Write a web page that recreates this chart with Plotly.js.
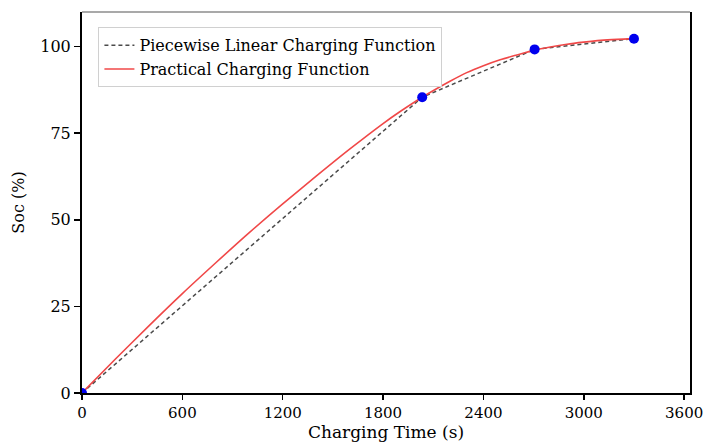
<!DOCTYPE html>
<html>
<head>
<meta charset="utf-8">
<script src="https://cdn.plot.ly/plotly-3.0.1.min.js"></script>
<style>html,body{margin:0;padding:0;background:#fff;}#chart{width:703px;height:442px;}</style>
</head>
<body>
<div id="chart"></div>
<script>
// Breakpoints of piecewise linear charging function
const pwTime = [0, 2034, 2706, 3300];
const pwSoc = [0, 85.4, 99.2, 102.3];
// Practical (nonlinear) charging function
const prTime = [0, 200, 400, 600, 800, 1000, 1200, 1400, 1600, 1800, 1900, 2034, 2200, 2300, 2400, 2500, 2600, 2706, 2800, 2900, 3000, 3100, 3200, 3300];
const prSoc = [0, 9.8, 19.4, 28.7, 37.6, 46.3, 54.6, 62.6, 70.4, 77.8, 81.2, 85.4, 90.0, 92.5, 94.5, 96.2, 97.6, 99.0, 99.9, 100.7, 101.3, 101.8, 102.1, 102.3];
const xTicks = [0, 600, 1200, 1800, 2400, 3000, 3600];
const yTicks = [0, 25, 50, 75, 100];

const serif = "DejaVu Serif";

const traces = [
  {x: pwTime, y: pwSoc, mode: 'lines', name: 'Piecewise Linear Charging Function',
   line: {color: '#4a4a4a', width: 1.5, dash: '4px,3px'}},
  {x: prTime, y: prSoc, mode: 'lines', name: 'Practical Charging Function',
   line: {color: '#f04848', width: 1.6, shape: 'spline', smoothing: 0.8}},
  {x: pwTime, y: pwSoc, mode: 'markers', showlegend: false,
   marker: {color: '#0000ee', size: 10}}
];

const layout = {
  width: 703, height: 442,
  margin: {l: 82, r: 13, t: 12, b: 49},
  paper_bgcolor: '#fff', plot_bgcolor: '#fff',
  font: {family: serif, color: '#000', size: 16},
  showlegend: true,
  legend: {x: 0.027, y: 0.96, xanchor: 'left', yanchor: 'top',
    bgcolor: '#fff', bordercolor: '#d0d0d0', borderwidth: 1,
    font: {family: serif, size: 16}, tracegroupgap: 0, itemwidth: 30},
  xaxis: {
    range: [0, 3635], tickvals: xTicks, ticktext: xTicks.map(String),
    showgrid: false, zeroline: false, showline: true, linecolor: '#000', linewidth: 2,
    ticks: 'outside', ticklen: 5, tickwidth: 1.5, tickcolor: '#000',
    tickfont: {family: serif, size: 15}, ticklabeloverflow: 'allow',
    title: {text: 'Charging Time (s)', font: {family: serif, size: 17}, standoff: 7}
  },
  yaxis: {
    range: [0, 110], tickvals: yTicks, ticktext: yTicks.map(String),
    showgrid: false, zeroline: false, showline: true, linecolor: '#000', linewidth: 2,
    mirror: true,
    ticks: 'outside', ticklen: 6, tickwidth: 1.5, tickcolor: '#000',
    tickfont: {family: serif, size: 16},
    title: {text: 'Soc (%)', font: {family: serif, size: 16}, standoff: 12}
  },
  shapes: [
    {type: 'line', xref: 'paper', yref: 'paper', x0: 0, x1: 1, y0: 1, y1: 1,
     line: {color: '#555', width: 1.2}}
  ]
};

Plotly.newPlot('chart', traces, layout, {displayModeBar: false, staticPlot: true});
</script>
</body>
</html>
